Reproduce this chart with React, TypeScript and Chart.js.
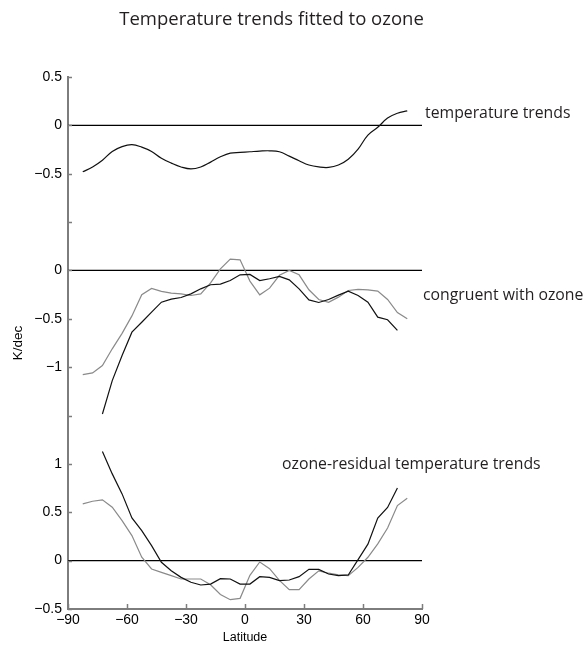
import React, { useEffect, useRef } from "react";
import { Chart, registerables } from "chart.js";

Chart.register(...registerables);

// Latitude grid (degrees), 5-degree bands
const LATITUDES = [
  -82.5, -77.5, -72.5, -67.5, -62.5, -57.5, -52.5, -47.5, -42.5, -37.5, -32.5, -27.5,
  -22.5, -17.5, -12.5, -7.5, -2.5, 2.5, 7.5, 12.5, 17.5, 22.5, 27.5, 32.5, 37.5, 42.5,
  47.5, 52.5, 57.5, 62.5, 67.5, 72.5, 77.5, 82.5,
];

// Panel 1: temperature trends (K/dec)
const TEMPERATURE_TRENDS = [
  -0.48, -0.43, -0.36, -0.27, -0.22, -0.2, -0.225, -0.27, -0.34, -0.39, -0.43, -0.45,
  -0.43, -0.38, -0.325, -0.287, -0.28, -0.273, -0.266, -0.263, -0.273, -0.318, -0.366, -0.41,
  -0.43, -0.435, -0.41, -0.35, -0.245, -0.1, -0.02, 0.075, 0.125, 0.15,
];

// Panel 2: congruent with ozone
const CONGRUENT_GREY = [
  -1.077, -1.059, -0.983, -0.81, -0.65, -0.47, -0.25, -0.186, -0.217, -0.235, -0.242, -0.259,
  -0.242, -0.128, 0.017, 0.117, 0.11, -0.11, -0.252, -0.183, -0.05, 0.0, -0.045, -0.2,
  -0.3, -0.33, -0.276, -0.207, -0.195, -0.2, -0.214, -0.3, -0.435, -0.5,
];
const CONGRUENT_BLACK = [
  null, null, -1.484, -1.139, -0.88, -0.638, -0.535, -0.431, -0.328, -0.297, -0.28, -0.242,
  -0.19, -0.148, -0.141, -0.104, -0.045, -0.041, -0.104, -0.086, -0.062, -0.097, -0.19, -0.304,
  -0.331, -0.3, -0.255, -0.214, -0.259, -0.328, -0.483, -0.51, -0.62, null,
];

// Panel 3: ozone-residual temperature trends
const RESIDUAL_GREY = [
  0.587, 0.614, 0.628, 0.552, 0.414, 0.259, 0.035, -0.086, -0.121, -0.155, -0.19, -0.19,
  -0.19, -0.25, -0.35, -0.404, -0.39, -0.152, -0.014, -0.083, -0.204, -0.3, -0.3, -0.19,
  -0.105, -0.13, -0.148, -0.155, -0.07, 0.035, 0.173, 0.338, 0.569, 0.645,
];
const RESIDUAL_BLACK = [
  null, null, 1.128, 0.897, 0.69, 0.442, 0.31, 0.155, -0.017, -0.104, -0.173, -0.224,
  -0.252, -0.242, -0.186, -0.19, -0.242, -0.242, -0.166, -0.173, -0.207, -0.2, -0.166, -0.09,
  -0.09, -0.138, -0.155, -0.148, 0.01, 0.17, 0.44, 0.55, 0.75, null,
];

// Vertical offsets stacking the three panels on one axis
const PANEL_OFFSETS = [0, -1.5, -4.5];
const PANEL_LABELS = [
  "temperature trends",
  "congruent with ozone",
  "ozone-residual temperature trends",
];

const Y_TICKS = [0.5, 0, -0.5, -1, -1.5, -2, -2.5, -3, -3.5, -4, -4.5, -5];
const Y_TICK_LABELS = ["0.5", "0", "−0.5", "", "0", "−0.5", "−1", "", "1", "0.5", "0", "−0.5"];
const X_TICKS = [-90, -60, -30, 0, 30, 60, 90];
const X_TICK_LABELS = ["−90", "−60", "−30", "0", "30", "60", "90"];

const TITLE = "Temperature trends fitted to ozone";
const Y_TITLE = "K/dec";
const X_TITLE = "Latitude";

const AXIS_COLOR = "#7d7d7d";
const DARK = "#111111";
const GREY = "#8a8a8a";
const TEXT_COLOR = "#231f20";
const SANS = "'Liberation Sans', Arial, sans-serif";
const HUMANIST = "'Open Sans', 'Noto Sans', sans-serif";

function series(values: (number | null)[], offset: number) {
  return LATITUDES.map((lat, i) => ({
    x: lat,
    y: values[i] == null ? null : (values[i] as number) + offset,
  }));
}

function lineSet(values: (number | null)[], offset: number, color: string, order: number, tension = 0) {
  return {
    data: series(values, offset),
    borderColor: color,
    borderWidth: 1.2,
    pointRadius: 0,
    tension,
    fill: false,
    spanGaps: false,
    order,
  };
}

function zeroLine(offset: number) {
  return {
    data: [
      { x: X_TICKS[0], y: offset },
      { x: X_TICKS[X_TICKS.length - 1], y: offset },
    ],
    borderColor: "#000000",
    borderWidth: 1.3,
    pointRadius: 0,
    fill: false,
    order: 3,
  };
}

const decorations = {
  id: "decorations",
  afterDraw(chart: any) {
    const { ctx, chartArea, scales } = chart;
    const xs = scales.x;
    const ys = scales.y;
    ctx.save();

    // inward tick marks
    ctx.strokeStyle = AXIS_COLOR;
    ctx.lineWidth = 1.5;
    Y_TICKS.forEach((v) => {
      const py = Math.round(ys.getPixelForValue(v)) + 0.5;
      ctx.beginPath();
      ctx.moveTo(chartArea.left, py);
      ctx.lineTo(chartArea.left + 4, py);
      ctx.stroke();
    });
    X_TICKS.forEach((v) => {
      const px = Math.round(xs.getPixelForValue(v)) + 0.5;
      ctx.beginPath();
      ctx.moveTo(px, chartArea.bottom);
      ctx.lineTo(px, chartArea.bottom - 5);
      ctx.stroke();
    });

    ctx.fillStyle = TEXT_COLOR;

    // title
    ctx.font = `18.5px ${HUMANIST}`;
    ctx.textAlign = "center";
    ctx.textBaseline = "middle";
    ctx.fillText(TITLE, 271.5, 20);

    // panel captions
    ctx.font = `15.8px ${HUMANIST}`;
    ctx.textAlign = "left";
    ctx.fillText(PANEL_LABELS[0], chartArea.right + 3, ys.getPixelForValue(PANEL_OFFSETS[0] + 0.125));
    ctx.fillText(PANEL_LABELS[1], chartArea.right + 1, ys.getPixelForValue(PANEL_OFFSETS[1] - 0.26));
    ctx.fillText(PANEL_LABELS[2], xs.getPixelForValue(18.8), ys.getPixelForValue(PANEL_OFFSETS[2] + 0.99));

    // axis titles
    ctx.fillStyle = "#000000";
    ctx.font = `12.5px ${SANS}`;
    ctx.textAlign = "center";
    ctx.fillText(X_TITLE, xs.getPixelForValue(0), 638);
    ctx.font = `13.5px ${SANS}`;
    ctx.translate(18, ys.getPixelForValue(-2.25));
    ctx.rotate(-Math.PI / 2);
    ctx.fillText(Y_TITLE, 0, 0);

    ctx.restore();
  },
};

export default function App() {
  const canvasRef = useRef<HTMLCanvasElement | null>(null);

  useEffect(() => {
    const canvas = canvasRef.current;
    if (!canvas) return;

    const datasets = [
      lineSet(TEMPERATURE_TRENDS, PANEL_OFFSETS[0], DARK, 0, 0.4),
      lineSet(CONGRUENT_BLACK, PANEL_OFFSETS[1], DARK, 0),
      lineSet(CONGRUENT_GREY, PANEL_OFFSETS[1], GREY, 1),
      lineSet(RESIDUAL_BLACK, PANEL_OFFSETS[2], DARK, 0),
      lineSet(RESIDUAL_GREY, PANEL_OFFSETS[2], GREY, 1),
      ...PANEL_OFFSETS.map((o) => zeroLine(o)),
    ];

    const tickFont = { family: SANS, size: 14 };

    const chart = new Chart(canvas, {
      type: "line",
      data: { datasets: datasets as any },
      options: {
        animation: false,
        responsive: false,
        events: [],
        layout: { padding: { top: 77, right: 166, left: 0, bottom: 0 } },
        plugins: {
          legend: { display: false },
          tooltip: { enabled: false },
          title: { display: false },
        },
        elements: { point: { radius: 0 } },
        scales: {
          x: {
            type: "linear",
            min: X_TICKS[0],
            max: X_TICKS[X_TICKS.length - 1],
            afterBuildTicks: (s: any) => {
              s.ticks = X_TICKS.map((v) => ({ value: v }));
            },
            afterFit: (s: any) => {
              s.height = 43;
            },
            grid: { display: false, drawTicks: false },
            border: { display: true, color: AXIS_COLOR, width: 2 },
            ticks: {
              autoSkip: false,
              maxRotation: 0,
              padding: 3,
              color: "#000000",
              font: tickFont,
              callback: (v: any) => {
                const i = X_TICKS.findIndex((t) => Math.abs(t - Number(v)) < 1e-9);
                return i >= 0 ? X_TICK_LABELS[i] : "";
              },
            },
          },
          y: {
            type: "linear",
            min: Y_TICKS[Y_TICKS.length - 1],
            max: Y_TICKS[0],
            afterBuildTicks: (s: any) => {
              s.ticks = Y_TICKS.map((v) => ({ value: v }));
            },
            afterFit: (s: any) => {
              s.width = 68;
            },
            grid: { display: false, drawTicks: false },
            border: { display: true, color: AXIS_COLOR, width: 2 },
            ticks: {
              autoSkip: false,
              padding: 6,
              color: "#000000",
              font: tickFont,
              callback: (v: any) => {
                const i = Y_TICKS.findIndex((t) => Math.abs(t - Number(v)) < 1e-9);
                return i >= 0 ? Y_TICK_LABELS[i] : "";
              },
            },
          },
        },
      } as any,
      plugins: [decorations],
    });

    return () => chart.destroy();
  }, []);

  return (
    <div style={{ position: "fixed", left: 0, top: 0, width: 588, height: 652, background: "#ffffff" }}>
      <canvas ref={canvasRef} width={588} height={652} style={{ display: "block" }} />
    </div>
  );
}
